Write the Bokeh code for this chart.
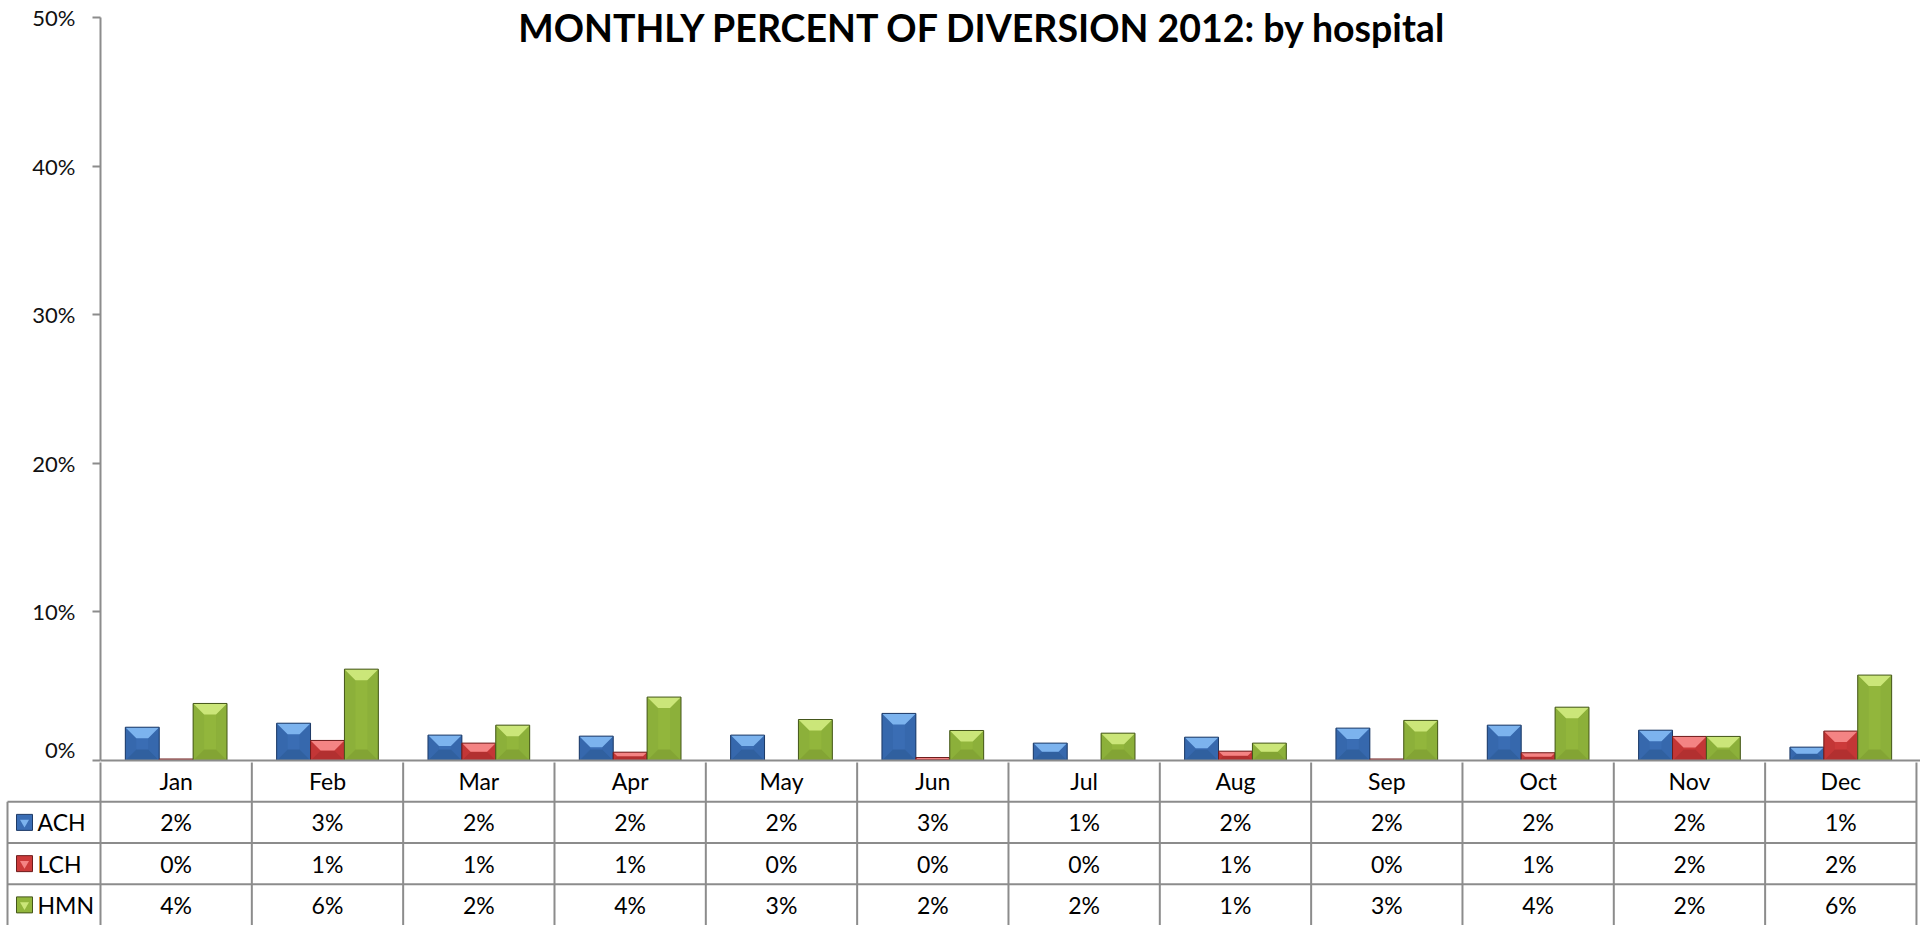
from bokeh.plotting import figure
from bokeh.models import Range1d, NumeralTickFormatter, FixedTicker, Span, Label
from bokeh.layouts import column
from bokeh.embed import file_html
from bokeh.resources import INLINE
from bokeh.core.properties import value

# ---------------- data ----------------
months = ["Jan", "Feb", "Mar", "Apr", "May", "Jun", "Jul", "Aug", "Sep", "Oct", "Nov", "Dec"]
series_names = ["ACH", "LCH", "HMN"]
ach_pct = [2.24, 2.51, 1.71, 1.64, 1.71, 3.17, 1.17, 1.57, 2.18, 2.38, 2.04, 0.90]
lch_pct = [0.10, 1.35, 1.17, 0.56, 0.00, 0.20, 0.00, 0.63, 0.10, 0.52, 1.62, 1.98]
hmn_pct = [3.84, 6.15, 2.38, 4.27, 2.76, 2.02, 1.84, 1.17, 2.70, 3.59, 1.62, 5.75]
y_ticks = [0, 0.1, 0.2, 0.3, 0.4, 0.5]
title_text = "MONTHLY PERCENT OF DIVERSION 2012: by hospital"

series_vals = [[v / 100 for v in ach_pct], [v / 100 for v in lch_pct], [v / 100 for v in hmn_pct]]

# ---------------- style ----------------
FONT = "Lato"
GRID = "#8c8c8c"
body = ["#3a6db4", "#cc3a3a", "#92b63c"]
light = ["#7cb3ee", "#f48484", "#cbe679"]
dark = ["#30609f", "#b23030", "#83a434"]
side = ["#3668ad", "#c33636", "#8cb03a"]
edge = ["#1d3a66", "#6e1c1c", "#44561b"]

W = 1920
LEFT = 100              # axis position from figure left
PX_COL = 151.33         # pixels per month column
FRAME_W = W - LEFT
Y_PX = 1485.4           # pixels per 100 %
ZERO_FROM_TOP = 760     # 0 % line position inside the chart figure
A_H = 762
BAR_W = 0.224
OFFS = [-0.224, 0.0, 0.224]
BEVEL = 11.0

# ---------------- chart ----------------
p = figure(width=W, height=A_H, output_backend="svg", toolbar_location=None,
           x_range=Range1d(0, FRAME_W / PX_COL),
           y_range=Range1d(-(A_H - ZERO_FROM_TOP) / Y_PX, ZERO_FROM_TOP / Y_PX),
           x_axis_location=None, min_border_left=LEFT, min_border_right=0,
           min_border_top=0, min_border_bottom=0)
p.frame_align = False
p.grid.visible = False
p.outline_line_color = None
p.background_fill_color = "white"
p.border_fill_color = "white"

ax = p.yaxis[0]
ax.ticker = FixedTicker(ticks=y_ticks)
ax.formatter = NumeralTickFormatter(format="0%")
ax.bounds = (0, 0.5)
ax.axis_line_color = GRID
ax.axis_line_width = 2
ax.major_tick_line_color = GRID
ax.major_tick_line_width = 2
ax.major_tick_out = 8
ax.major_tick_in = 0
ax.minor_tick_line_color = None
ax.major_label_standoff = 17
ax.major_label_text_font = FONT
ax.major_label_text_font_size = "22px"
ax.major_label_text_color = "#111111"

for s, vals in enumerate(series_vals):
    xc = [i + 0.5 + OFFS[s] for i in range(len(months))]
    p.vbar(x=xc, top=vals, bottom=0, width=BAR_W, fill_color=body[s],
           line_color=None)
    tops_x, tops_y, bots_x, bots_y, sides_x, sides_y = [], [], [], [], [], []
    for x, v in zip(xc, vals):
        if v <= 0:
            continue
        h_px = v * Y_PX
        b_px = min(BEVEL, h_px / 2)
        by = b_px / Y_PX
        bx = b_px / PX_COL
        xl, xr = x - BAR_W / 2, x + BAR_W / 2
        tops_x.append([xl, xr, xr - bx, xl + bx])
        tops_y.append([v, v, v - by, v - by])
        bots_x.append([xl, xr, xr - bx, xl + bx])
        bots_y.append([0, 0, by, by])
        sides_x.append([xl, xl + bx, xl + bx, xl])
        sides_y.append([0, by, v - by, v])
        sides_x.append([xr, xr - bx, xr - bx, xr])
        sides_y.append([0, by, v - by, v])
    p.patches(xs=sides_x, ys=sides_y, fill_color=side[s], line_color=None)
    p.patches(xs=bots_x, ys=bots_y, fill_color=dark[s], line_color=None)
    p.patches(xs=tops_x, ys=tops_y, fill_color=light[s], line_color=None)
    p.vbar(x=xc, top=vals, bottom=0, width=BAR_W, fill_color=None,
           line_color=edge[s], line_width=1)

p.add_layout(Span(location=0, dimension="width", line_color=GRID, line_width=2))
p.add_layout(Label(x=(983 - LEFT) / PX_COL, y=(ZERO_FROM_TOP - 27) / Y_PX,
                   text=title_text, text_align="center", text_baseline="alphabetic",
                   text_font=FONT, text_font_style="bold",
                   text_font_size="37.5px", text_color="black"))

# ---------------- data table ----------------
ROW_PX = 41.25
B_H = 163
top_gap = (A_H - ZERO_FROM_TOP) / ROW_PX
t = figure(width=W, height=B_H, output_backend="svg", toolbar_location=None,
           x_range=Range1d(-LEFT / PX_COL, FRAME_W / PX_COL),
           y_range=Range1d(top_gap + B_H / ROW_PX, top_gap),
           x_axis_location=None, y_axis_location=None,
           min_border_left=0, min_border_right=0, min_border_top=0, min_border_bottom=0)
t.frame_align = False
t.grid.visible = False
t.outline_line_color = None

n = len(months)
left_border = -(LEFT - 7) / PX_COL
vx0 = [float(i) for i in range(n + 1)] + [left_border]
vy0 = [0.0] * (n + 1) + [1.0]
vy1 = [5.0] * (n + 2)
t.segment(x0=vx0, y0=vy0, x1=vx0, y1=vy1, line_color=GRID, line_width=2)
hy = [1.0, 2.0, 3.0]
t.segment(x0=[left_border] * 3, y0=hy, x1=[float(n)] * 3, y1=hy, line_color=GRID, line_width=2)

TS = "23px"
t.text(x=[i + 0.5 for i in range(n)], y=[0.5] * n, text=months,
       text_align="center", text_baseline="middle", text_font=value(FONT),
       text_font_size=TS, text_color="black")

leg_x = (24 - LEFT) / PX_COL
leg_tx = (37 - LEFT) / PX_COL
for s, vals in enumerate(series_vals):
    row_y = s + 1.5
    labels = ["{:.0f}%".format(v * 100) for v in vals]
    t.text(x=[i + 0.5 for i in range(n)], y=[row_y] * n, text=labels,
           text_align="center", text_baseline="middle", text_font=value(FONT),
           text_font_size=TS, text_color="black")
    t.rect(x=[leg_x], y=[row_y], width=16, height=16, width_units="screen",
           height_units="screen", fill_color=body[s], line_color=edge[s], line_width=1)
    t.scatter(x=[leg_x], y=[row_y], marker="inverted_triangle", size=9,
              fill_color=light[s], line_color=None)
    t.text(x=[leg_tx], y=[row_y], text=[series_names[s]], text_align="left",
           text_baseline="middle", text_font=value(FONT), text_font_size=TS,
           text_color="black")

layout = column(p, t, spacing=0)
open("out.html", "w").write(file_html(layout, INLINE))
